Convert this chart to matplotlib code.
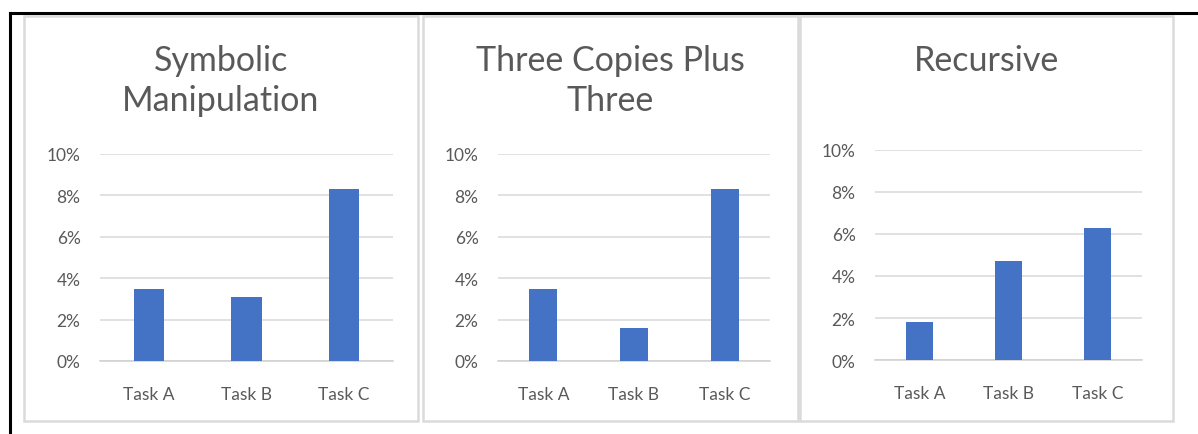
import matplotlib.pyplot as plt
from matplotlib.patches import Rectangle
from matplotlib.lines import Line2D
from matplotlib.ticker import PercentFormatter

# error rates per task for each benchmark
tasks = ["Task A", "Task B", "Task C"]
symbolic = [0.035, 0.031, 0.083]
three_copies = [0.035, 0.016, 0.083]
recursive = [0.018, 0.047, 0.063]
titles = ["Symbolic\nManipulation", "Three Copies Plus\nThree", "Recursive"]

W, H = 1198, 435
fig = plt.figure(figsize=(W / 100, H / 100), dpi=100)
plt.rcParams['font.family'] = ['Lato', 'DejaVu Sans']

def fx(px):
    return px / W

def fy(py):
    return 1 - py / H

# outer frame: top and left edges only
fig.add_artist(Line2D([fx(10), fx(1198)], [fy(14), fy(14)], color='black', lw=2.2))
fig.add_artist(Line2D([fx(10), fx(10)], [fy(14), fy(435)], color='black', lw=2.2))

# panel box (left, right) and plot area (left, right, top, bottom) in pixels
panels = [(24, 418), (423, 798), (800, 1173)]
areas = [(100, 393, 155, 362), (498, 770, 155, 362), (875, 1142, 151, 361)]
series = [symbolic, three_copies, recursive]

for (pl, pr), (al, ar, at, ab), vals, title in zip(panels, areas, series, titles):
    fig.add_artist(Rectangle((fx(pl), fy(422)), fx(pr - pl), (422 - 17) / H,
                             fill=False, edgecolor='#dadada', lw=1.8))
    fig.text(fx((pl + pr) / 2), fy(45), title, ha='center', va='top',
             fontsize=24.5, color='#595959', linespacing=1.3)

    ax = fig.add_axes([fx(al), fy(ab), fx(ar - al), (ab - at) / H])
    ax.bar(range(len(tasks)), vals, width=0.31, color='#4472C4', zorder=3)
    ax.set_xlim(-0.5, 2.5)
    ax.set_ylim(0, 0.10)
    ax.set_yticks([0, 0.02, 0.04, 0.06, 0.08, 0.10])
    ax.yaxis.set_major_formatter(PercentFormatter(1.0, decimals=0))
    ax.set_xticks(range(len(tasks)))
    ax.set_xticklabels(tasks)
    ax.grid(axis='y', color='#d9d9d9', lw=1.1, zorder=0)
    ax.set_axisbelow(True)
    for s in ['top', 'right', 'left']:
        ax.spines[s].set_visible(False)
    ax.spines['bottom'].set_color('#d0d0d0')
    ax.spines['bottom'].set_linewidth(1.1)
    ax.tick_params(axis='both', length=0, labelsize=12.5, labelcolor='#595959')
    ax.tick_params(axis='y', pad=14)
    ax.tick_params(axis='x', pad=18)

fig.savefig("out.png", dpi=100, facecolor='white')
